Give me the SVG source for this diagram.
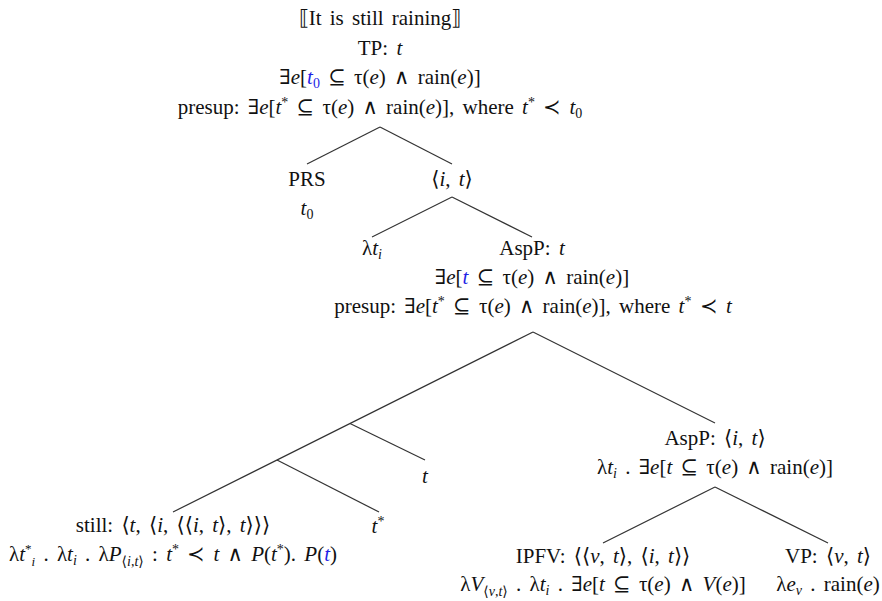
<svg xmlns="http://www.w3.org/2000/svg" width="882" height="601" viewBox="0 0 882 601">
<style>
text{font-family:"Liberation Serif","DejaVu Serif",serif;font-size:21px;fill:#111;text-anchor:middle;word-spacing:3px}
.i{font-style:italic}
.b{fill:#1f1fe6}
.s{font-size:14px}
.ss{font-size:13px}
line{stroke:#333;stroke-width:1.2}
</style>
<rect width="882" height="601" fill="#fff"/>
<g id="connectors">
<line x1="380" y1="127" x2="307" y2="164"/>
<line x1="380" y1="127" x2="452" y2="164"/>
<line x1="452" y1="197" x2="372" y2="237"/>
<line x1="452" y1="197" x2="532" y2="237"/>
<line x1="533" y1="332" x2="173" y2="512"/>
<line x1="350" y1="423.5" x2="425" y2="460"/>
<line x1="277" y1="460" x2="379" y2="512"/>
<line x1="533" y1="332" x2="715" y2="423"/>
<line x1="715" y1="487" x2="603" y2="543"/>
<line x1="715" y1="487" x2="828" y2="543"/>
</g>
<g id="root">
<text x="380" y="25">⟦It is still raining⟧</text>
<text x="380" y="55">TP: <tspan class="i">t</tspan></text>
<text x="380" y="84">∃<tspan class="i">e</tspan>[<tspan class="i b">t</tspan><tspan class="s b" dy="4">0</tspan><tspan dy="-4"> ⊆ τ(</tspan><tspan class="i">e</tspan>) ∧ rain(<tspan class="i">e</tspan>)]</text>
<text x="380" y="114">presup: ∃<tspan class="i">e</tspan>[<tspan class="i">t</tspan><tspan class="s" dy="-7">*</tspan><tspan dy="7"> ⊆ τ(</tspan><tspan class="i">e</tspan>) ∧ rain(<tspan class="i">e</tspan>)], where <tspan class="i">t</tspan><tspan class="s" dy="-7">*</tspan><tspan dy="7"> ≺ </tspan><tspan class="i">t</tspan><tspan class="s" dy="4">0</tspan></text>
</g>
<g id="prs">
<text x="307" y="186">PRS</text>
<text x="307" y="215"><tspan class="i">t</tspan><tspan class="s" dy="4">0</tspan></text>
</g>
<g id="it1">
<text x="452" y="186">⟨<tspan class="i">i</tspan>, <tspan class="i">t</tspan>⟩</text>
</g>
<g id="lambda">
<text x="372" y="255">λ<tspan class="i">t</tspan><tspan class="s i" dy="4">i</tspan></text>
</g>
<g id="aspp1">
<text x="532" y="255">AspP: <tspan class="i">t</tspan></text>
<text x="532" y="284">∃<tspan class="i">e</tspan>[<tspan class="i b">t</tspan> ⊆ τ(<tspan class="i">e</tspan>) ∧ rain(<tspan class="i">e</tspan>)]</text>
<text x="533" y="313">presup: ∃<tspan class="i">e</tspan>[<tspan class="i">t</tspan><tspan class="s" dy="-7">*</tspan><tspan dy="7"> ⊆ τ(</tspan><tspan class="i">e</tspan>) ∧ rain(<tspan class="i">e</tspan>)], where <tspan class="i">t</tspan><tspan class="s" dy="-7">*</tspan><tspan dy="7"> ≺ </tspan><tspan class="i">t</tspan></text>
</g>
<g id="aspp2">
<text x="715" y="445">AspP: ⟨<tspan class="i">i</tspan>, <tspan class="i">t</tspan>⟩</text>
<text x="715" y="474">λ<tspan class="i">t</tspan><tspan class="s i" dy="4">i</tspan><tspan dy="-4"> . ∃</tspan><tspan class="i">e</tspan>[<tspan class="i">t</tspan> ⊆ τ(<tspan class="i">e</tspan>) ∧ rain(<tspan class="i">e</tspan>)]</text>
</g>
<g id="t">
<text x="425" y="483" class="i">t</text>
</g>
<g id="tstar">
<text x="378" y="533"><tspan class="i">t</tspan><tspan class="s" dy="-7">*</tspan></text>
</g>
<g id="still">
<text x="173" y="532">still: ⟨<tspan class="i">t</tspan>, ⟨<tspan class="i">i</tspan>, ⟨⟨<tspan class="i">i</tspan>, <tspan class="i">t</tspan>⟩, <tspan class="i">t</tspan>⟩⟩⟩</text>
<text x="173" y="561">λ<tspan class="i">t</tspan><tspan class="ss" dy="-8">*</tspan><tspan class="ss i" dy="13">i</tspan><tspan dy="-5"> . λ</tspan><tspan class="i">t</tspan><tspan class="s i" dy="4">i</tspan><tspan dy="-4"> . λ</tspan><tspan class="i">P</tspan><tspan class="s" dy="5">⟨<tspan class="i">i</tspan>,<tspan class="i">t</tspan>⟩</tspan><tspan dy="-5"> : </tspan><tspan class="i">t</tspan><tspan class="s" dy="-7">*</tspan><tspan dy="7"> ≺ </tspan><tspan class="i">t</tspan> ∧ <tspan class="i">P</tspan>(<tspan class="i">t</tspan><tspan class="s" dy="-7">*</tspan><tspan dy="7">). </tspan><tspan class="i">P</tspan>(<tspan class="i b">t</tspan>)</text>
</g>
<g id="ipfv">
<text x="603" y="563">IPFV: ⟨⟨<tspan class="i">v</tspan>, <tspan class="i">t</tspan>⟩, ⟨<tspan class="i">i</tspan>, <tspan class="i">t</tspan>⟩⟩</text>
<text x="603" y="591">λ<tspan class="i">V</tspan><tspan class="s" dy="5">⟨<tspan class="i">v</tspan>,<tspan class="i">t</tspan>⟩</tspan><tspan dy="-5"> . λ</tspan><tspan class="i">t</tspan><tspan class="s i" dy="4">i</tspan><tspan dy="-4"> . ∃</tspan><tspan class="i">e</tspan>[<tspan class="i">t</tspan> ⊆ τ(<tspan class="i">e</tspan>) ∧ <tspan class="i">V</tspan>(<tspan class="i">e</tspan>)]</text>
</g>
<g id="vp">
<text x="828" y="563">VP: ⟨<tspan class="i">v</tspan>, <tspan class="i">t</tspan>⟩</text>
<text x="828" y="591">λ<tspan class="i">e</tspan><tspan class="s i" dy="4">v</tspan><tspan dy="-4"> . rain(</tspan><tspan class="i">e</tspan>)</text>
</g>
</svg>
